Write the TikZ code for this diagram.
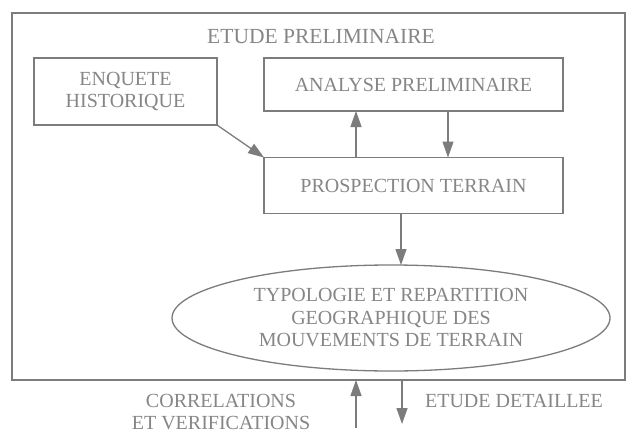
\documentclass[tikz,border=0pt]{standalone}
\usepackage{fontspec}
\setmainfont{Liberation Serif}
\usetikzlibrary{arrows.meta,shapes.geometric}
\definecolor{lineg}{HTML}{7C7C7C}
\definecolor{textg}{HTML}{868686}
\tikzset{
  lab/.style={text=textg,font=\fontsize{20}{22}\selectfont,align=center,inner sep=0pt},
  boxnode/.style={lab,draw=lineg,line width=1.3pt,inner sep=0pt,outer sep=0pt},
  outerbox/.style={draw=lineg,line width=2.4pt,inner sep=0pt,outer sep=0pt},
  arr/.style={draw=lineg,line width=1.3pt,-{Triangle[length=16pt,width=11pt]}},
}
\begin{document}
\begin{tikzpicture}[x=1pt,y=-1pt]
\useasboundingbox (0,0) rectangle (628,433);
\fill[white] (0,0) rectangle (628,433);
\node[outerbox,minimum width=613pt,minimum height=367pt] (outer) at (318.5,196.5) {};
\node[lab,font=\fontsize{21.5}{24}\selectfont] (title) at (321,37) {ETUDE PRELIMINAIRE};
\node[boxnode,minimum width=183pt,minimum height=67pt] (enq) at (125.5,91.5) {ENQUETE\\HISTORIQUE};
\node[boxnode,minimum width=299pt,minimum height=53pt] (anal) at (413.5,84.5) {ANALYSE PRELIMINAIRE};
\node[boxnode,minimum width=299pt,minimum height=56pt] (prosp) at (413.5,185.5) {PROSPECTION TERRAIN};
\node[boxnode,ellipse,minimum width=438pt,minimum height=106pt,font=\fontsize{20}{22.5}\selectfont] (ell) at (391,318) {TYPOLOGIE ET REPARTITION\\GEOGRAPHIQUE DES\\MOUVEMENTS DE TERRAIN};
\node[lab] (corr) at (221,412) {CORRELATIONS\\ET VERIFICATIONS};
\node[lab] (det) at (514,401) {ETUDE DETAILLEE};
\coordinate (xa) at (356,0);
\coordinate (xb) at (448,0);
\coordinate (xc) at (401,0);
\coordinate (upstart) at (356,428);
\coordinate (downend) at (402,424);
\draw[arr] (enq.south east) -- (prosp.north west);
\draw[arr] (prosp.north -| xa) -- (anal.south -| xa);
\draw[arr] (anal.south -| xb) -- (prosp.north -| xb);
\draw[arr] (prosp.south -| xc) -- (ell.north -| xc);
\draw[arr] (upstart) -- (outer.south -| upstart);
\draw[arr] (outer.south -| downend) -- (downend);
\end{tikzpicture}
\end{document}
